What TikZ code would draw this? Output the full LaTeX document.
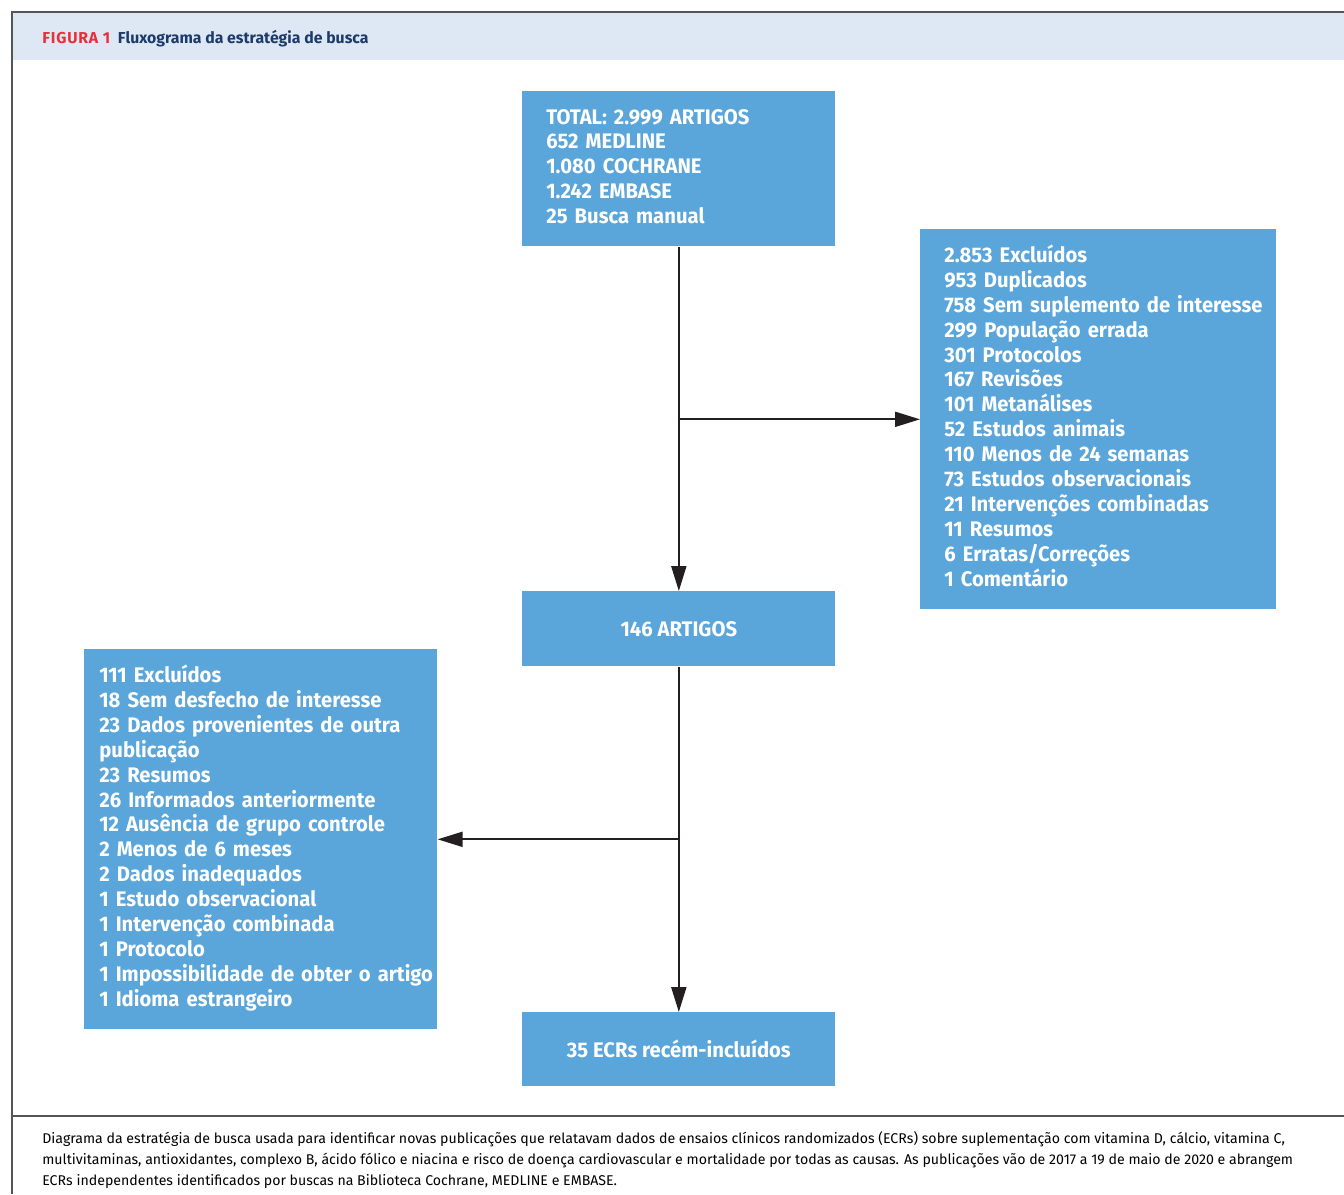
\documentclass[tikz,border=0pt]{standalone}
\usepackage{fontspec}
\setmainfont{Fira Sans}
\newfontfamily\boxfont{Fira Sans}[FakeStretch=0.96]
\newfontfamily\footfont{Fira Sans}
\usetikzlibrary{arrows.meta}
\definecolor{boxblue}{HTML}{5AA5DA}
\definecolor{headblue}{HTML}{DDE8F4}
\definecolor{figred}{HTML}{E8303A}
\definecolor{titlenavy}{HTML}{1D3A6B}
\definecolor{arrowdark}{HTML}{231F20}
\definecolor{framegray}{HTML}{555555}

\begin{document}
\begin{tikzpicture}[x=0.02cm, y=-0.02cm,
    flowbox/.style ={rectangle, fill=boxblue, text=white, anchor=north west,
      inner ysep=0pt, font=\boxfont\bfseries\fontsize{12}{14.15}\selectfont},
    flowarrow/.style ={draw=arrowdark, line width=1.1pt,
      -{Triangle[length=0.5cm, width=0.3cm]}}]
   \useasboundingbox (0,0) rectangle (1344,1194);
   % frame and header band
   \fill[headblue] (12,12) rectangle (1344,60);
   \draw[framegray, line width=1.2pt] (12,1194) -- (12,12) -- (1344,12);
   \draw[framegray, line width=0.9pt] (12,1116) -- (1344,1116);
   \node[anchor=base west, inner sep=0pt, font=\bfseries\fontsize{9}{10}\selectfont] (title) at (42,43)
      {\textcolor{figred}{\addfontfeature{LetterSpace=5}FIGURA 1}\hspace{0.5em}\textcolor{titlenavy}{Fluxograma da estratégia de busca}};
   % boxes
   \node[flowbox, inner xsep=0.48cm, minimum width=6.26cm, minimum height=3.10cm,
      text width=5.30cm, align=left] (total) at (522,91)
      {\begin{tabular}{@{}l@{}}
       TOTAL: 2.999 ARTIGOS\\652 MEDLINE\\1.080 COCHRANE\\1.242 EMBASE\\25 Busca manual
       \end{tabular}};
   \node[flowbox, inner xsep=0.48cm, minimum width=7.12cm, minimum height=7.60cm,
      text width=6.16cm, align=left] (excl1) at (920,229)
      {\begin{tabular}{@{}l@{}}
       2.853 Excluídos\\953 Duplicados\\758 Sem suplemento de interesse\\299 População errada\\
       301 Protocolos\\167 Revisões\\101 Metanálises\\52 Estudos animais\\110 Menos de 24 semanas\\
       73 Estudos observacionais\\21 Intervenções combinadas\\11 Resumos\\6 Erratas/Correções\\
       1 Comentário
       \end{tabular}};
   \node[flowbox, minimum width=6.26cm, minimum height=1.50cm] (artigos) at (522,591) {146 ARTIGOS};
   \node[flowbox, inner xsep=0.30cm, minimum width=7.06cm, minimum height=7.60cm,
      text width=6.46cm, align=left] (excl2) at (84,649)
      {\begin{tabular}{@{}l@{}}
       111 Excluídos\\18 Sem desfecho de interesse\\23 Dados provenientes de outra\\publicação\\
       23 Resumos\\26 Informados anteriormente\\12 Ausência de grupo controle\\2 Menos de 6 meses\\
       2 Dados inadequados\\1 Estudo observacional\\1 Intervenção combinada\\1 Protocolo\\
       1 Impossibilidade de obter o artigo\\1 Idioma estrangeiro
       \end{tabular}};
   \node[flowbox, minimum width=6.26cm, minimum height=1.48cm] (incl) at (522,1012) {35 ECRs recém-incluídos};
   % connectors
   \coordinate (split1) at (total.south |- excl1.west);
   \coordinate (split2) at (artigos.south |- excl2.east);
   \draw[flowarrow] (total) to (artigos);
   \draw[flowarrow] (split1) to (excl1.west);
   \draw[flowarrow] (artigos) to (incl);
   \draw[flowarrow] (split2) to (excl2.east);
   % caption
   \node[anchor=north west, inner sep=0pt, align=left, font=\footfont\fontsize{8.05}{11.9}\selectfont] (caption) at (42,1131)
      {Diagrama da estratégia de busca usada para identificar novas publicações que relatavam dados de ensaios clínicos randomizados (ECRs) sobre suplementação com vitamina D, cálcio, vitamina C,\\
       multivitaminas, antioxidantes, complexo B, ácido fólico e niacina e risco de doença cardiovascular e mortalidade por todas as causas. As publicações vão de 2017 a 19 de maio de 2020 e abrangem\\
       ECRs independentes identificados por buscas na Biblioteca Cochrane, MEDLINE e EMBASE.};
\end{tikzpicture}
\end{document}
